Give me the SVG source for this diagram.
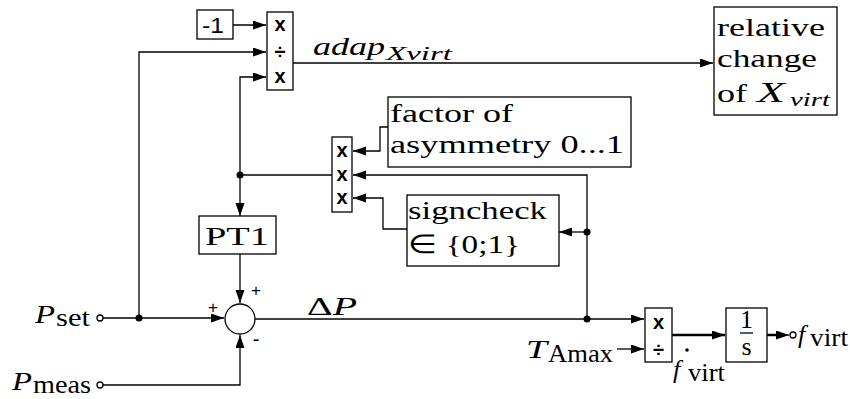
<svg xmlns="http://www.w3.org/2000/svg" width="850" height="399" viewBox="0 0 850 399">
<defs>
<marker id="ah" markerUnits="userSpaceOnUse" markerWidth="14" markerHeight="10" refX="13" refY="4.5" orient="auto"><path d="M0,0 L13,4.5 L0,9 z" fill="#000"/></marker>
<style>
.b{fill:#fff;stroke:#000;stroke-width:1.3}
.c{fill:none;stroke:#000;stroke-width:1.3}
.t{font-family:"Liberation Serif",serif;font-size:26px;fill:#000}
.i{font-style:italic}
.s{font-family:"Liberation Sans",sans-serif;fill:#000}
.x{font-family:"Liberation Sans",sans-serif;font-weight:bold;font-size:20px;fill:#000;text-anchor:middle}
.d{fill:#000}
</style>
</defs>
<rect width="850" height="399" fill="#fff"/>
<g id="connectors">
<path class="c" d="M233,25 L266,25" marker-end="url(#ah)"/>
<path class="c" d="M103,318 L224,318" marker-end="url(#ah)"/>
<path class="c" d="M139,318 L139,52 L266,52" marker-end="url(#ah)"/>
<path class="c" d="M240,175 L240,77 L266,77" marker-end="url(#ah)"/>
<path class="c" d="M240,175 L240,216" marker-end="url(#ah)"/>
<path class="c" d="M332,175 L240,175"/>
<path class="c" d="M587,319 L587,175 L353,175" marker-end="url(#ah)"/>
<path class="c" d="M587,232 L559,232" marker-end="url(#ah)"/>
<path class="c" d="M388,127 L380,127 L380,151 L353,151" marker-end="url(#ah)"/>
<path class="c" d="M407,229 L383,229 L383,198 L353,198" marker-end="url(#ah)"/>
<path class="c" d="M240,254 L240,303" marker-end="url(#ah)"/>
<path class="c" d="M255,319 L644,319" marker-end="url(#ah)"/>
<path class="c" d="M103,385 L240,385 L240,335" marker-end="url(#ah)"/>
<path class="c" d="M617,349 L644,349" marker-end="url(#ah)"/>
<path class="c" style="stroke-width:2.5" d="M672,335 L725,335" marker-end="url(#ah)"/>
<path class="c" style="stroke-width:2.5" d="M767,335 L785,335"/>
<path class="c" d="M775,335 L789,335" marker-end="url(#ah)"/>
<path class="c" d="M293,63 L713,63" marker-end="url(#ah)"/>
<circle class="d" cx="139" cy="318" r="3.5"/>
<circle class="d" cx="240" cy="175" r="3.5"/>
<circle class="d" cx="587" cy="232" r="3.5"/>
<circle class="d" cx="587" cy="319" r="3.5"/>
</g>
<g id="neg1">
<rect class="b" x="197" y="10" width="36" height="29"/>
<text class="s" x="202" y="33" font-size="22" textLength="22" lengthAdjust="spacingAndGlyphs">-1</text>
</g>
<g id="mul1">
<rect class="b" x="267" y="12" width="26" height="78"/>
<text class="x" x="280" y="31">x</text>
<text class="x" x="280" y="59" font-size="21">÷</text>
<text class="x" x="280" y="83">x</text>
</g>
<g id="adap-label">
<text class="t i" x="313" y="55"><tspan textLength="72" lengthAdjust="spacingAndGlyphs">adap</tspan><tspan x="386" y="60" font-size="19" textLength="66" lengthAdjust="spacingAndGlyphs">Xvirt</tspan></text>
</g>
<g id="relchange">
<rect class="b" x="714" y="7" width="123" height="108"/>
<text class="t" x="717" y="36" textLength="108" lengthAdjust="spacingAndGlyphs">relative</text>
<text class="t" x="717" y="67" textLength="100" lengthAdjust="spacingAndGlyphs">change</text>
<text class="t" x="717" y="102"><tspan textLength="30" lengthAdjust="spacingAndGlyphs">of</tspan><tspan class="i" x="757" font-size="29" textLength="28" lengthAdjust="spacingAndGlyphs">X</tspan><tspan class="i" x="790" y="106" font-size="19" textLength="40" lengthAdjust="spacingAndGlyphs">virt</tspan></text>
</g>
<g id="factor">
<rect class="b" x="388" y="97" width="243" height="70"/>
<text class="t" x="390" y="122" textLength="123" lengthAdjust="spacingAndGlyphs">factor of</text>
<text class="t" x="390" y="153" textLength="234" lengthAdjust="spacingAndGlyphs">asymmetry 0...1</text>
</g>
<g id="mul3">
<rect class="b" x="332" y="137" width="20" height="75"/>
<text class="x" x="342" y="157">x</text>
<text class="x" x="342" y="181">x</text>
<text class="x" x="342" y="204">x</text>
</g>
<g id="signcheck">
<rect class="b" x="407" y="195" width="152" height="71"/>
<text class="t" x="408" y="219" textLength="139" lengthAdjust="spacingAndGlyphs">signcheck</text>
<text class="t" x="408" y="253" textLength="112" lengthAdjust="spacingAndGlyphs">∈ {0;1}</text>
</g>
<g id="pt1">
<rect class="b" x="199" y="216" width="77" height="38"/>
<text class="t" x="205" y="245" font-size="31" textLength="64" lengthAdjust="spacingAndGlyphs">PT1</text>
</g>
<g id="sum">
<circle class="b" cx="240" cy="319" r="15"/>
<text class="s" x="213" y="313" font-size="17" text-anchor="middle">+</text>
<text class="s" x="256" y="296" font-size="17" text-anchor="middle">+</text>
<text class="s" x="256" y="346" font-size="20" text-anchor="middle">-</text>
</g>
<g id="pset">
<text class="t i" x="35" y="323" font-size="31" textLength="20" lengthAdjust="spacingAndGlyphs">P</text>
<text class="t" x="56" y="326" font-size="21" textLength="34" lengthAdjust="spacingAndGlyphs">set</text>
<circle class="b" cx="100" cy="318" r="3"/>
</g>
<g id="pmeas">
<text class="t i" x="12" y="390" font-size="31" textLength="20" lengthAdjust="spacingAndGlyphs">P</text>
<text class="t" x="33" y="393" font-size="21" textLength="58" lengthAdjust="spacingAndGlyphs">meas</text>
<circle class="b" cx="100" cy="385" r="3"/>
</g>
<g id="deltaP">
<text class="t" x="307" y="315" font-size="30" textLength="50" lengthAdjust="spacingAndGlyphs">Δ<tspan class="i">P</tspan></text>
</g>
<g id="tamax">
<text class="t i" x="526" y="358" font-size="31" textLength="21" lengthAdjust="spacingAndGlyphs">T</text>
<text class="t" x="548" y="362" font-size="21" textLength="65" lengthAdjust="spacingAndGlyphs">Amax</text>
</g>
<g id="mul2">
<rect class="b" x="645" y="308" width="27" height="54"/>
<text class="x" x="658.5" y="329">x</text>
<text class="x" x="658.5" y="357" font-size="21">÷</text>
</g>
<g id="fdot">
<text class="t i" x="673" y="378" font-size="35">f</text>
<circle class="d" cx="687" cy="350" r="1.8"/>
<text class="t" x="688" y="381" font-size="21" textLength="37" lengthAdjust="spacingAndGlyphs">virt</text>
</g>
<g id="integrator">
<rect class="b" x="726" y="308" width="41" height="54"/>
<text class="t" x="746.5" y="328" font-size="21" text-anchor="middle">1</text>
<line class="c" x1="740" y1="333" x2="753" y2="333"/>
<text class="t" x="746.5" y="355" font-size="21" text-anchor="middle">s</text>
</g>
<g id="fvirt">
<circle class="b" cx="793" cy="335" r="3"/>
<text class="t i" x="798" y="343" font-size="35">f</text>
<text class="t" x="810" y="346" font-size="21" textLength="38" lengthAdjust="spacingAndGlyphs">virt</text>
</g>
</svg>
